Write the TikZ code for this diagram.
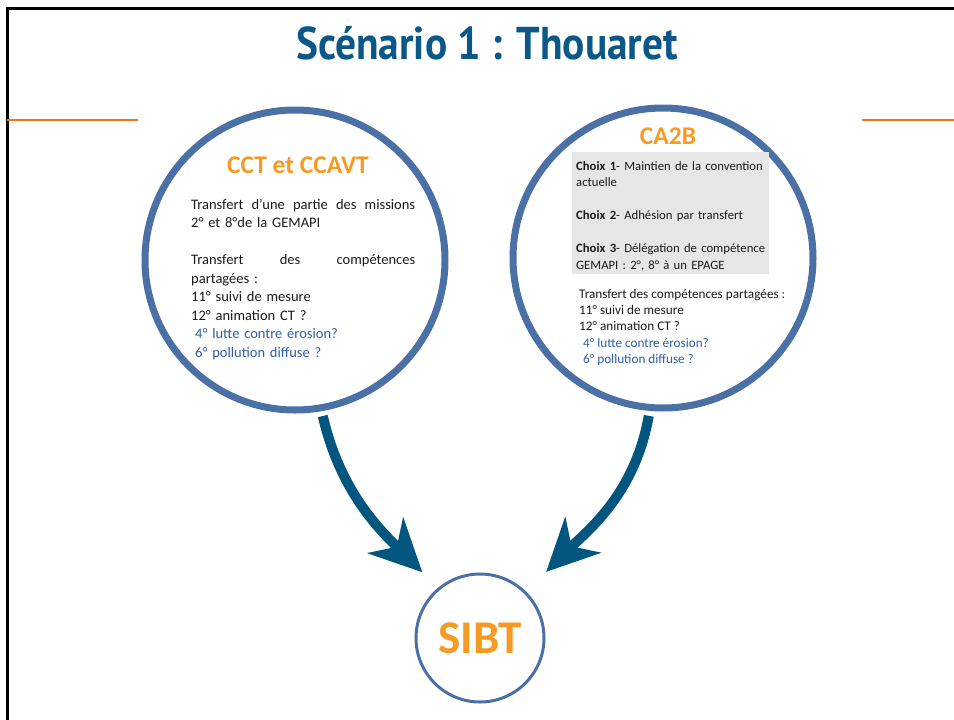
\documentclass[tikz,border=0pt]{standalone}
\usepackage{fontspec}
\setmainfont{Carlito}
\setsansfont{Carlito}
\newfontfamily\headfont[FakeStretch=0.9]{PT Sans}
\usetikzlibrary{arrows.meta, positioning}
\definecolor{ink}{HTML}{1A1A1A}
\definecolor{deepblue}{HTML}{0B5888}
\definecolor{ring}{HTML}{4A70A6}
\definecolor{flowblue}{HTML}{00567F}
\definecolor{orangetxt}{HTML}{F59A23}
\definecolor{orangerule}{HTML}{F07818}
\definecolor{softblue}{HTML}{2F5DA3}
\definecolor{shade}{HTML}{E6E6E6}
\tikzset{
  font=\sffamily,
  %
  bigring/.style={circle, draw=ring, line width=7pt, minimum size=300pt,
                  inner sep=0pt},
  smallring/.style={circle, draw=ring, line width=3pt, minimum size=128pt,
                    inner sep=0pt},
  %
  heading/.style={text=orangetxt, inner sep=0pt,
                  font=\sffamily\bfseries\fontsize{25.5}{28}\selectfont},
  body/.style={text=ink, align=left, inner sep=0pt, anchor=north west},
  choices/.style={fill=shade, text=ink, align=left, anchor=north west,
                  inner xsep=4pt, inner ysep=3pt},
  %
  flow/.style={draw=flowblue, line width=10pt,
               -{Stealth[length=52pt, width=50pt, inset=16pt]}},
  frame/.style={draw=black, line width=3pt},
  orule/.style={draw=orangerule, line width=2pt},
}
\newcommand{\later}[1]{\textcolor{softblue}{#1}}

\begin{document}
\begin{tikzpicture}[x=1pt, y=1pt]
\useasboundingbox (0,0) rectangle (954,-720);

% ------------------------------------------------------------------ frame
\draw[frame] (954,-8) -- (7,-8) -- (7,-720);
\draw[orule] (7,-120) -- (138,-120);
\draw[orule] (862,-120) -- (954,-120);

\node[text=deepblue, font=\headfont\bfseries\fontsize{46}{48}\selectfont]
  (title) at (487,-43) {Scénario 1 : Thouaret};

% ------------------------------------------------------------------- CCT
\node[bigring] (cct) at (295,-260) {};
\node[heading] (cctname) at (298,-165) {CCT et CCAVT};
\node[body, text width=225pt, font=\sffamily\fontsize{14.5}{18.5}\selectfont]
  (cctbody) at (191,-199)
  {\makebox[224pt][s]{Transfert\hfill d'une\hfill partie\hfill des\hfill missions}\\
   2° et 8°de la GEMAPI\\[18.5pt]
   \makebox[224pt][s]{Transfert\hfill des\hfill compétences}\\
   partagées :\\
   11° suivi de mesure\\
   12° animation CT ?\\
   \hspace*{4pt}\later{4° lutte contre érosion?}\\
   \hspace*{4pt}\later{6° pollution diffuse ?}};

% ------------------------------------------------------------------ CA2B
\node[bigring] (ca2b) at (663,-258) {};
\node[heading] (ca2bname) at (668,-136) {CA2B};
\node[choices, text width=189pt, font=\sffamily\fontsize{12.7}{16.5}\selectfont]
  (opts) at (572,-152)
  {\rule{0pt}{15pt}\textbf{Choix 1}- Maintien de la convention\\
   actuelle\\[16.5pt]
   \textbf{Choix 2}- Adhésion par transfert\\[16.5pt]
   \textbf{Choix 3}- Délégation de compétence\\
   GEMAPI : 2°, 8° à un EPAGE};
\node[body, font=\sffamily\fontsize{13.2}{16.3}\selectfont]
  (shared) at (579,-289)
  {Transfert des compétences partagées :\\
   11° suivi de mesure\\
   12° animation CT ?\\
   \hspace*{4pt}\later{4° lutte contre érosion?}\\
   \hspace*{4pt}\later{6° pollution diffuse ?}};

% ------------------------------------------------------------------ SIBT
\node[smallring] (sibt) at (480,-638) {};
\node[text=orangetxt, font=\sffamily\bfseries\fontsize{47}{50}\selectfont]
  (sibtname) at (sibt) {SIBT};

\draw[flow, shorten <=5pt, shorten >=22pt]
  (cct.-80) to[out=-77, in=135] (sibt.130);
\draw[flow, shorten <=5pt, shorten >=28pt]
  (ca2b.-95) to[out=-100, in=45] (sibt.45);

\end{tikzpicture}
\end{document}
